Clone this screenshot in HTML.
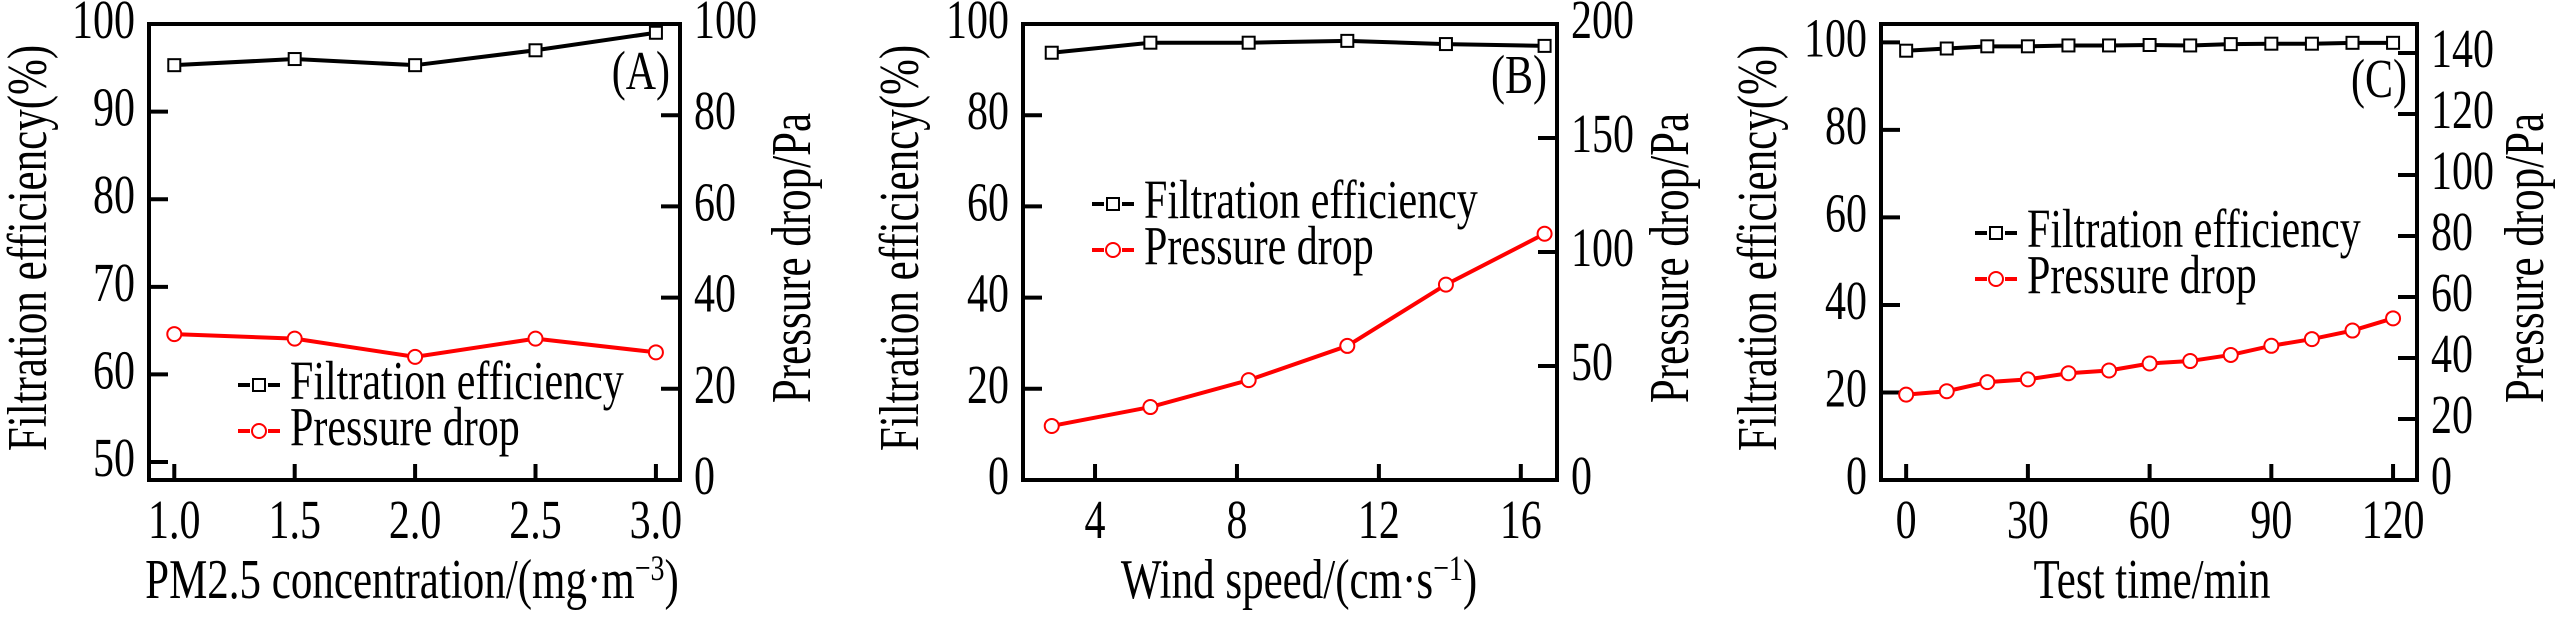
<!DOCTYPE html>
<html><head><meta charset="utf-8"><style>
body{margin:0;background:#fff}
svg{display:block}
svg text{font-family:"Liberation Serif","DejaVu Serif",serif !important}
</style></head><body>
<svg id="fig" width="2567" height="620" viewBox="0 0 2567 620" font-family="Liberation Serif, DejaVu Serif, serif"></svg>
<script>
// Panel A data
const aCategories=[1.0,1.5,2.0,2.5,3.0];
const aEfficiency=[95.3,96.0,95.3,97.0,99.0];
const aPressure=[32,31,27,31,28];
const aXTicks=[1.0,1.5,2.0,2.5,3.0];
const aXTickLabels=["1.0","1.5","2.0","2.5","3.0"];
const aYTicks=[50,60,70,80,90,100];
const aY2Ticks=[0,20,40,60,80,100];
// Panel B data
const bCategories=[2.78,5.56,8.33,11.11,13.89,16.67];
const bEfficiency=[93.7,95.9,95.9,96.3,95.6,95.2];
const bPressure=[23.7,32,43.8,58.8,85.7,108];
const bXTicks=[4,8,12,16];
const bXTickLabels=["4","8","12","16"];
const bYTicks=[0,20,40,60,80,100];
const bY2Ticks=[0,50,100,150,200];
// Panel C data
const cCategories=[0,10,20,30,40,50,60,70,80,90,100,110,120];
const cEfficiency=[98.1,98.6,99.1,99.1,99.3,99.3,99.4,99.3,99.6,99.7,99.7,99.9,99.9];
const cPressure=[28,29.1,32.1,33,35,35.9,38.2,39,41,44,46.2,49,53];
const cXTicks=[0,30,60,90,120];
const cXTickLabels=["0","30","60","90","120"];
const cYTicks=[0,20,40,60,80,100];
const cY2Ticks=[0,20,40,60,80,100,120,140];

const NS="http://www.w3.org/2000/svg";
const svg=document.getElementById('fig');
const FF='"Liberation Serif", "DejaVu Serif", serif';
const SY=1.3;
function mk(tag,attrs,parent,text){
  const e=document.createElementNS(NS,tag);
  for(const k in attrs)e.setAttribute(k,attrs[k]);
  if(tag==='text')e.setAttribute('font-family',FF);
  if(text!==undefined)e.textContent=text;
  (parent||svg).appendChild(e);return e;
}
function txt(parent,x,y,str,size,anchor,rot){
  const tr='translate('+x+','+y+')'+(rot?' rotate(-90)':'')+' scale(1,'+SY+')';
  return mk('text',{x:0,y:0,'text-anchor':anchor,'font-size':size,transform:tr},parent,str);
}
function panel(p){
  const g=mk('g',{});
  
  
  const X=v=>p.L+(v-p.x0)/(p.x1-p.x0)*(p.R-p.L);
  const Y=v=>p.B-(v-p.y0)/(p.y1-p.y0)*(p.B-p.T);
  const Y2=v=>p.B-(v-p.r0)/(p.r1-p.r0)*(p.B-p.T);
  const box=mk('rect',{x:p.L,y:p.T,width:p.R-p.L,height:p.B-p.T,fill:'none',stroke:'#000','stroke-width':4},g);
  
  
  p.yt.forEach(v=>{
    const y=Y(v);
    mk('line',{x1:p.L,x2:p.L+19,y1:y,y2:y,stroke:'#000','stroke-width':4},g);
    const t=txt(g,p.L-14,y+14,String(v),42,'end');
    
    
  });
  p.y2t.forEach(v=>{
    const y=Y2(v);
    mk('line',{x1:p.R-19,x2:p.R,y1:y,y2:y,stroke:'#000','stroke-width':4},g);
    const t=txt(g,p.R+14,y+14,String(v),42,'start');
    
    
  });
  p.xt.forEach((v,i)=>{
    const x=X(v);
    mk('line',{x1:x,x2:x,y1:p.B,y2:p.B-16,stroke:'#000','stroke-width':4},g);
    const t=txt(g,x,538,p.xl[i],42,'middle');
    
    
  });
  const ep=p.cat.map((c,i)=>X(c)+','+Y(p.eff[i])).join(' ');
  const l1=mk('polyline',{points:ep,fill:'none',stroke:'#000','stroke-width':4},g);
  
  
  p.cat.forEach((c,i)=>{
    const m=mk('rect',{x:X(c)-6,y:Y(p.eff[i])-6,width:12,height:12,fill:'#fff',stroke:'#000','stroke-width':2},g);
    
    
  });
  const pp=p.cat.map((c,i)=>X(c)+','+Y2(p.pr[i])).join(' ');
  const l2=mk('polyline',{points:pp,fill:'none',stroke:'#f00','stroke-width':4},g);
  
  
  p.cat.forEach((c,i)=>{
    const m=mk('circle',{cx:X(c),cy:Y2(p.pr[i]),r:7,fill:'#fff',stroke:'#f00','stroke-width':2},g);
    
    
  });
  const lg=mk('g',{},g);
  
  
  const lx=p.lx, ly1=p.ly1, ly2=p.ly2;
  mk('line',{x1:lx,x2:lx+42,y1:ly1,y2:ly1,stroke:'#000','stroke-width':4,'stroke-dasharray':'12 18 12'},lg);
  mk('rect',{x:lx+15,y:ly1-6,width:12,height:12,fill:'#fff',stroke:'#000','stroke-width':2},lg);
  const t1=txt(lg,lx+52,ly1+14,'Filtration efficiency',42,'start');
  
  
  mk('line',{x1:lx,x2:lx+42,y1:ly2,y2:ly2,stroke:'#f00','stroke-width':4,'stroke-dasharray':'12 18 12'},lg);
  mk('circle',{cx:lx+21,cy:ly2,r:7,fill:'#fff',stroke:'#f00','stroke-width':2},lg);
  const t2=txt(lg,lx+52,ly2+14,'Pressure drop',42,'start');
  
  
  const pl=txt(g,p.R-10,p.tagY,'('+p.id.toUpperCase()+')',42,'end');
  
  
  const xt=txt(g,p.xtx,598,'',43,'middle');
  xt.innerHTML=p.xtitle;
  
  
  const yt=txt(g,p.ylx,248,'Filtration efficiency(%)',43,'middle',true);
  
  
  const y2=txt(g,p.y2x,258,'Pressure drop/Pa',43,'middle',true);
  
  
}
panel({id:'a',L:149,R:680,T:24,B:480,x0:0.895,x1:3.1,y0:47.95,y1:100,r0:0,r1:100,
  cat:aCategories,eff:aEfficiency,pr:aPressure,xt:aXTicks,xl:aXTickLabels,yt:aYTicks,y2t:aY2Ticks,
  lx:238,ly1:385,ly2:431,tagY:89,xtx:412,xtitle:'PM2.5 concentration/(mg·m<tspan dy="-14" font-size="28">−3</tspan><tspan dy="14">)</tspan>',ylx:46,y2x:810});
panel({id:'b',L:1023,R:1557,T:24,B:480,x0:1.97,x1:17.02,y0:0,y1:100,r0:0,r1:200,
  cat:bCategories,eff:bEfficiency,pr:bPressure,xt:bXTicks,xl:bXTickLabels,yt:bYTicks,y2t:bY2Ticks,
  lx:1092,ly1:204,ly2:250,tagY:93,xtx:1299,xtitle:'Wind speed/(cm·s<tspan dy="-14" font-size="28">−1</tspan><tspan dy="14">)</tspan>',ylx:918,y2x:1688});
panel({id:'c',L:1881,R:2417,T:24,B:480,x0:-6.2,x1:125.9,y0:0,y1:104.2,r0:0,r1:149.5,
  cat:cCategories,eff:cEfficiency,pr:cPressure,xt:cXTicks,xl:cXTickLabels,yt:cYTicks,y2t:cY2Ticks,
  lx:1975,ly1:233,ly2:279,tagY:97,xtx:2152,xtitle:'Test time/min',ylx:1776,y2x:2543});
</script>
</body></html>
